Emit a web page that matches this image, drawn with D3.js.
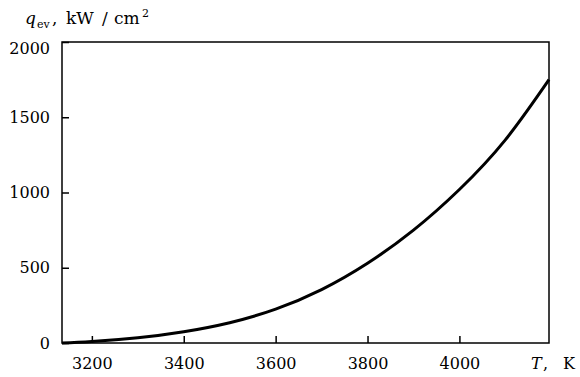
<!DOCTYPE html>
<html>
<head>
<meta charset="utf-8">
<script src="https://cdn.jsdelivr.net/npm/d3@7"></script>
<style>
  body { margin: 0; background: #fff; }
  svg { display: block; }
</style>
</head>
<body>
<svg width="580" height="377"></svg>
<script>
// data: temperature (K) and q_ev (kW/cm2)
var temps  = [3135, 3200, 3300, 3400, 3500, 3600, 3700, 3800, 3900, 4000, 4100, 4195];
var qvals  = [0,    10,   35,   75,   135,  225,  355,  530,  750,  1020, 1350, 1750];
var xTicks = [3200, 3400, 3600, 3800, 4000];
var yTicks = [0, 500, 1000, 1500, 2000];

var data = temps.map(function(t, i) { return [t, qvals[i]]; });

var svg = d3.select("svg");
var plotL = 62, plotR = 549, plotT = 42, plotB = 343;
var font = "DejaVu Serif";

var xScale = d3.scaleLinear().domain([3135, 4195]).range([plotL, plotR]),
    yScale = d3.scaleLinear().domain([0, 2000]).range([plotB, plotT]);

// x axis (ticks point inward)
var gx = svg.append("g")
  .attr("transform", "translate(0," + plotB + ")")
  .call(d3.axisBottom(xScale).tickValues(xTicks).tickSize(-7).tickPadding(14.5).tickFormat(d3.format("d")));
gx.select(".domain").remove();
gx.selectAll("line").attr("stroke", "#000").attr("stroke-width", 1.5);
gx.selectAll("text").style("font-family", font).style("font-size", "16px").attr("fill", "#000");

// y axis
var gy = svg.append("g")
  .attr("transform", "translate(" + plotL + ",0)")
  .call(d3.axisLeft(yScale).tickValues(yTicks).tickSize(-7).tickPadding(12).tickFormat(d3.format("d")));
gy.select(".domain").remove();
gy.selectAll("line").attr("stroke", "#000").attr("stroke-width", 1.5);
gy.selectAll("text").style("font-family", font).style("font-size", "16px").attr("fill", "#000")
  .attr("dy", function(d) { return d === 2000 ? "0.72em" : "0.32em"; });

// frame
svg.append("rect")
  .attr("x", plotL).attr("y", plotT)
  .attr("width", plotR - plotL).attr("height", plotB - plotT)
  .attr("fill", "none").attr("stroke", "#000").attr("stroke-width", 1.5);

// curve
var line = d3.line()
  .x(function(d) { return xScale(d[0]); })
  .y(function(d) { return yScale(d[1]); })
  .curve(d3.curveNatural);

svg.append("path")
  .datum(data)
  .attr("d", line)
  .style("fill", "none")
  .style("stroke", "#000")
  .style("stroke-width", "3");

// y title
var yt = svg.append("text")
  .attr("y", 24)
  .style("font-family", font).style("font-size", "17px");
yt.append("tspan").attr("x", 25).style("font-style", "italic").text("q");
yt.append("tspan").attr("x", 37).attr("dy", 4).style("font-size", "11px").text("ev");
yt.append("tspan").attr("x", 52).attr("dy", -4).text(",");
yt.append("tspan").attr("x", 66).text("kW");
yt.append("tspan").attr("x", 102).text("/");
yt.append("tspan").attr("x", 114).text("cm");
yt.append("tspan").attr("x", 142).attr("dy", -7).style("font-size", "11px").text("2");

// x title
var xt = svg.append("text")
  .attr("y", 369)
  .style("font-family", font).style("font-size", "16px");
xt.append("tspan").attr("x", 531).style("font-style", "italic").text("T");
xt.append("tspan").attr("x", 543).text(",");
xt.append("tspan").attr("x", 563).text("K");
</script>
</body>
</html>
